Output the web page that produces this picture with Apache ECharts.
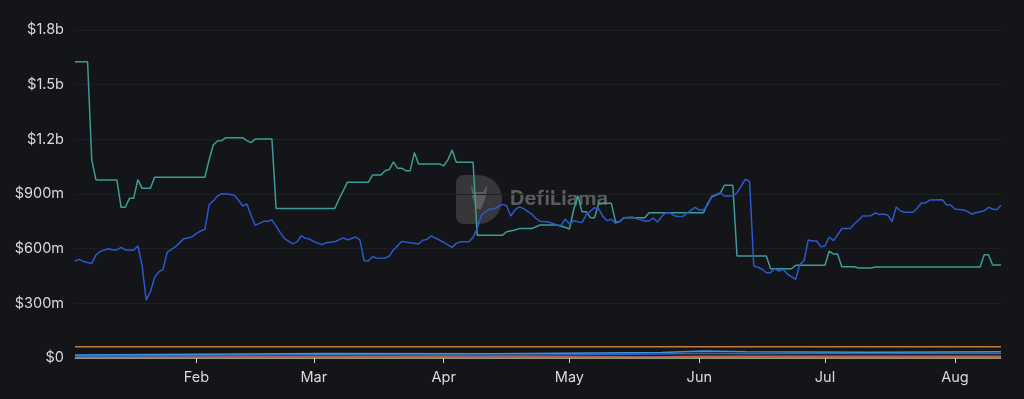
<!DOCTYPE html>
<html>
<head>
<meta charset="utf-8">
<style>
  html, body { margin: 0; padding: 0; background: #141518; }
  #chart { width: 1024px; height: 399px; }
</style>
<script src="https://cdn.jsdelivr.net/npm/echarts@6/dist/echarts.min.js"></script>
</head>
<body>
<div id="chart"></div>
<script>
// first day of the series, x values below are days counted from it
var startDate = [2023, 0, 3];

// values in millions of USD
var tealDays = [0, 3, 4, 5, 10, 11, 12, 13, 14, 15, 16, 18, 19, 31, 32, 33, 34, 35, 36, 40, 41, 42, 43, 47, 48,
    62, 63, 65, 70, 71, 73, 74, 75, 76, 77, 78, 79, 80, 81, 82, 87, 88, 89, 90, 91, 95, 96, 102, 103, 105, 106,
    109, 111, 115, 117, 118, 119, 120, 121, 122, 123, 124, 125, 128, 129, 130, 131, 136, 137, 150, 151, 152, 154,
    155, 157, 158, 165, 166, 171, 172, 179, 180, 181, 182, 183, 186, 187, 190, 191, 216, 217, 218, 219, 221];
var tealValues = [1626, 1626, 1087, 977, 977, 827, 827, 876, 876, 979, 931, 931, 992, 992, 1087, 1169, 1191, 1193, 1209, 1209, 1193, 1182, 1202, 1202, 821,
    821, 871, 964, 964, 1004, 1004, 1028, 1034, 1076, 1041, 1041, 1028, 1028, 1127, 1065, 1065, 1054, 1087, 1141, 1074, 1074, 673, 673, 693, 702, 710,
    710, 730, 730, 717, 708, 812, 889, 803, 803, 770, 770, 849, 849, 748, 748, 770, 770, 797, 797, 849, 885, 904,
    948, 948, 560, 560, 490, 490, 509, 509, 587, 571, 571, 501, 501, 494, 494, 499, 499, 567, 567, 510, 510];

var blueDays = [0, 1, 2, 4, 5, 6, 8, 9, 10, 11, 12, 13, 14, 15, 16, 17, 18, 19, 20, 21, 22, 23, 24, 25, 26, 27, 28, 29, 30,
    31, 32, 33, 34, 35, 37, 38, 39, 40, 41, 42, 43, 44, 45, 46, 47, 48, 49, 50, 52, 53, 54, 55, 56, 57, 59, 60, 62,
    64, 65, 67, 68, 69, 70, 71, 72, 74, 75, 76, 78, 80, 82, 83, 84, 85, 88, 90, 91, 92, 94, 95, 96, 97, 99, 100, 101,
    102, 103, 104, 105, 106, 107, 109, 110, 111, 113, 115, 116, 117, 118, 119, 121, 122, 124, 125, 126, 127, 128, 129,
    130, 131, 133, 134, 136, 137, 138, 139, 140, 141, 142, 143, 144, 145, 146, 148, 149, 150, 151, 152, 154, 155, 157,
    158, 159, 160, 161, 162, 163, 164, 165, 166, 167, 168, 169, 170, 172, 173, 174, 175, 176, 177, 178, 179, 180, 181,
    182, 183, 185, 186, 187, 188, 190, 191, 192, 193, 194, 195, 196, 197, 198, 200, 201, 202, 203, 204, 207, 208, 209,
    210, 212, 213, 214, 215, 217, 218, 219, 220, 221];
var blueValues = [532, 541, 530, 519, 565, 585, 600, 593, 593, 607, 593, 593, 591, 616, 510, 317, 364, 443, 472, 487, 580, 596, 611, 633, 655, 659, 666, 684, 697,
    706, 841, 862, 889, 902, 898, 893, 867, 834, 845, 785, 728, 739, 750, 750, 757, 724, 688, 655, 626, 637, 671, 657, 653, 638, 622, 633, 638,
    659, 648, 664, 648, 534, 532, 556, 549, 547, 560, 593, 640, 633, 626, 646, 651, 670, 635, 607, 629, 638, 638, 662, 712, 785, 818, 818, 830,
    843, 836, 779, 812, 829, 821, 790, 767, 750, 746, 730, 727, 763, 735, 753, 743, 785, 825, 818, 776, 753, 761, 739,
    750, 770, 774, 765, 752, 752, 768, 746, 776, 797, 797, 781, 776, 776, 794, 827, 812, 812, 840, 889, 907, 889, 889,
    907, 944, 981, 968, 505, 498, 487, 468, 468, 492, 477, 487, 461, 432, 514, 534, 648, 642, 642, 611, 615, 664, 644,
    675, 710, 710, 735, 757, 779, 781, 797, 787, 790, 783, 748, 829, 807, 800, 800, 822, 851, 851, 867, 869, 840, 840,
    818, 812, 805, 790, 797, 808, 827, 818, 814, 838];

// small series hugging the bottom
var smallDays = [0, 30, 60, 100, 140, 150, 160, 190, 221];
var orangeValues = [62, 62, 62, 62, 62, 62, 62, 62, 62];
var skyValues = [16, 20, 25, 24, 30, 38, 34, 32, 34];
var navyValues = [10, 14, 18, 14, 22, 26, 24, 26, 25];
var redValues = [4, 4, 5, 6, 7, 9, 9, 9, 9];
var purpleValues = [6, 6, 6, 5, 5, 5, 5, 5, 5];
var yellowValues = [1, 1, 1, 1, 1, 1, 1, 1, 1];

var yTicks = [0, 300, 600, 900, 1200, 1500, 1800];

function toPairs(days, values) {
    return days.map(function (d, i) {
        var t = new Date(startDate[0], startDate[1], startDate[2] + d).getTime();
        return [t, values[i]];
    });
}

function fmtMoney(v) {
    if (v === 0) return "$0";
    if (v >= 1000) return "$" + (v / 1000).toFixed(1) + "b";
    return "$" + v + "m";
}

var myChart = echarts.init(document.getElementById("chart"));

function lineSeries(name, days, values, color, z) {
    return {
        name: name,
        type: "line",
        data: toPairs(days, values),
        showSymbol: false,
        symbol: "none",
        z: z,
        lineStyle: { color: color, width: 1.5 },
        itemStyle: { color: color }
    };
}

var lastDay = tealDays[tealDays.length - 1];
var labelFont = "Inter, 'Liberation Sans', sans-serif";

var option = {
    backgroundColor: "#141518",
    animation: false,
    grid: { left: 75, right: 23, top: 30, bottom: 41 },
    xAxis: {
        type: "time",
        min: new Date(startDate[0], startDate[1], startDate[2]).getTime(),
        max: new Date(startDate[0], startDate[1], startDate[2] + lastDay).getTime(),
        splitLine: { show: false },
        axisLine: { show: true, lineStyle: { color: "#8a8a8a" } },
        axisTick: { show: true, length: 5, lineStyle: { color: "#cfcfcf" } },
        axisLabel: {
            color: "#dadada",
            fontSize: 14.5,
            fontFamily: labelFont,
            margin: 12,
            formatter: "{MMM}",
            hideOverlap: true
        }
    },
    yAxis: {
        type: "value",
        min: yTicks[0],
        max: yTicks[yTicks.length - 1],
        interval: yTicks[1] - yTicks[0],
        axisLine: { show: false },
        axisTick: { show: false },
        splitLine: { show: true, lineStyle: { color: "#1d1f23", width: 1 } },
        axisLabel: {
            color: "#dadada",
            fontSize: 14.5,
            fontFamily: labelFont,
            margin: 11,
            formatter: fmtMoney
        }
    },
    graphic: [{
        type: "group",
        left: 456,
        top: 175,
        silent: true,
        z: 0,
        children: [{
            type: "rect",
            shape: { x: 0, y: 0, width: 46, height: 49, r: [8, 24, 24, 8] },
            style: { fill: "rgba(120,120,120,0.35)" }
        }, {
            // llama head in the logo
            type: "polygon",
            shape: { points: [[15, 10], [19, 17], [27, 17], [31, 10], [30, 22], [25, 34], [21, 34], [16, 22]] },
            style: { fill: "rgba(160,160,160,0.35)" }
        }, {
            type: "text",
            style: {
                x: 54, y: 14,
                text: "DefiLlama",
                fill: "rgba(150,150,150,0.55)",
                font: "bold 20px " + labelFont
            }
        }]
    }],
    series: [
        lineSeries("Yellow", smallDays, yellowValues, "#a8a23c", 3),
        lineSeries("Purple", smallDays, purpleValues, "#8464c8", 3),
        lineSeries("Red", smallDays, redValues, "#c0644e", 3),
        lineSeries("Navy", smallDays, navyValues, "#2f63c9", 3),
        lineSeries("Sky", smallDays, skyValues, "#3c95dc", 3),
        lineSeries("Orange", smallDays, orangeValues, "#c37a3e", 3),
        lineSeries("Teal", tealDays, tealValues, "#3c9c96", 4),
        lineSeries("Blue", blueDays, blueValues, "#2b59cc", 5)
    ]
};

myChart.setOption(option);
</script>
</body>
</html>
